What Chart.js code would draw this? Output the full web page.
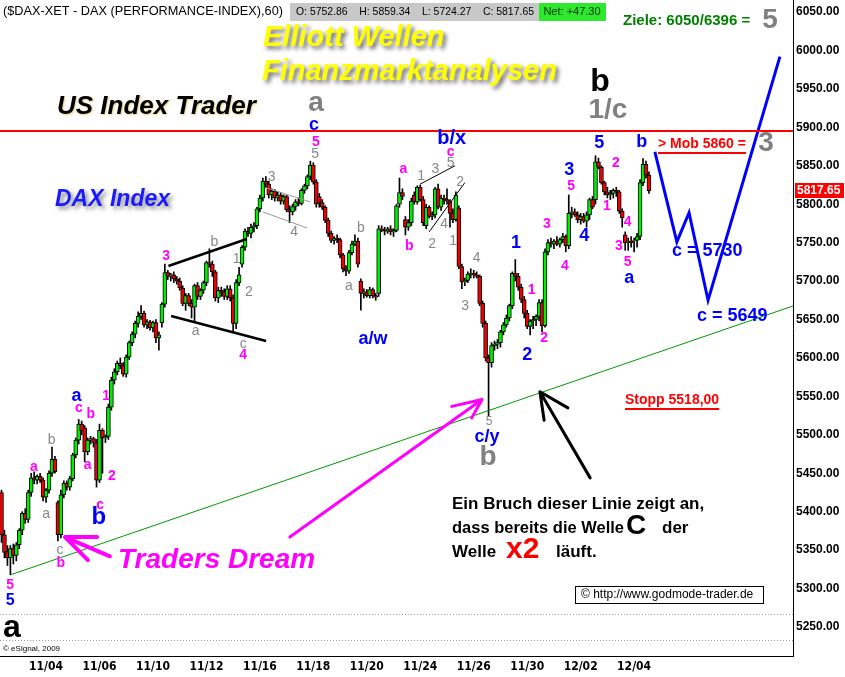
<!DOCTYPE html>
<html>
<head>
<meta charset="utf-8">
<script src="https://cdn.jsdelivr.net/npm/chart.js@4.4.0/dist/chart.umd.min.js"></script>
<style>
  html, body { margin: 0; padding: 0; background: #fff; }
  #wrap { position: relative; width: 845px; height: 677px; }
</style>
</head>
<body>
<div id="wrap"><canvas id="dax"></canvas></div>
<script>
// DAX 60-min bars, 11/02 - 12/04/2009
const opens = [5425,5370,5348,5340,5352,5343,5357,5376,5398,5390,5425,5444,5441,5446,5441,5419,5428,5450,5468,5412,
  5370,5422,5437,5432,5443,5474,5493,5514,5509,5478,5493,5495,5490,5441,5506,5496,5498,5536,5571,5582,
  5593,5590,5579,5601,5620,5631,5645,5654,5658,5643,5647,5639,5646,5626,5646,5670,5711,5706,5708,5703,
  5700,5691,5671,5681,5671,5666,5694,5680,5688,5698,5724,5722,5712,5678,5688,5686,5680,5690,5678,5645,
  5698,5722,5744,5765,5762,5770,5772,5794,5808,5830,5826,5812,5817,5808,5812,5804,5810,5793,5790,5797,
  5803,5801,5818,5824,5836,5851,5829,5810,5802,5796,5779,5762,5753,5756,5754,5734,5716,5713,5737,5748,
  5752,5700,5684,5686,5681,5689,5681,5684,5768,5766,5765,5768,5764,5766,5800,5815,5780,5770,5776,5812,
  5803,5822,5806,5772,5796,5784,5786,5820,5796,5808,5806,5804,5788,5780,5795,5719,5699,5701,5709,5710,
  5708,5706,5671,5645,5600,5594,5616,5618,5620,5634,5643,5652,5668,5710,5706,5692,5676,5658,5641,5648,
  5650,5654,5672,5642,5738,5750,5748,5752,5748,5754,5758,5746,5788,5790,5786,5780,5784,5778,5786,5806,
  5806,5855,5848,5828,5816,5812,5814,5818,5816,5791,5760,5750,5752,5752.86,5753,5758,5828,5852,5838];
const highs = [5428,5376,5356,5356,5358,5360,5378,5400,5404,5428,5450,5452,5448,5450,5444,5430,5453,5484,5472,5414,
  5428,5440,5440,5446,5476,5496,5520,5518,5512,5496,5498,5497,5494,5514,5508,5500,5540,5575,5586,5596,
  5600,5594,5604,5622,5634,5648,5660,5668,5661,5650,5649,5648,5650,5634,5672,5722,5714,5710,5712,5706,
  5704,5694,5684,5684,5676,5696,5698,5690,5700,5726,5742,5726,5714,5692,5692,5690,5694,5694,5682,5702,
  5718,5746,5768,5770,5774,5776,5796,5812,5834,5836,5830,5820,5819,5816,5815,5812,5812,5798,5800,5806,
  5808,5820,5826,5838,5856,5854,5832,5814,5806,5798,5782,5765,5758,5760,5756,5736,5720,5740,5752,5760,
  5756,5703,5690,5689,5692,5691,5684,5772,5772,5770,5770,5772,5768,5800,5834,5820,5784,5780,5808,5816,
  5824,5825,5810,5800,5798,5790,5822,5826,5812,5812,5820,5806,5794,5816,5798,5722,5704,5712,5716,5714,
  5712,5708,5674,5648,5604,5620,5622,5624,5636,5646,5656,5670,5712,5728,5710,5696,5680,5662,5650,5654,
  5656,5676,5676,5742,5754,5756,5754,5758,5756,5762,5760,5812,5796,5794,5790,5788,5788,5790,5808,5810,
  5863,5860,5850,5830,5822,5818,5820,5822,5818,5794,5764,5756,5758,5756,5762,5832,5859.34,5856,5842];
const lows = [5360,5340,5330,5318,5332,5336,5352,5370,5385,5386,5420,5436,5436,5438,5414,5412,5424,5446,5450,5362,
  5366,5418,5428,5428,5440,5470,5488,5500,5465,5474,5488,5484,5432,5438,5450,5490,5494,5532,5566,5578,
  5586,5576,5575,5598,5616,5626,5640,5650,5640,5638,5636,5634,5620,5610,5640,5666,5702,5700,5698,5696,
  5688,5668,5662,5668,5652,5648,5676,5676,5684,5694,5718,5706,5674,5672,5680,5676,5676,5674,5634,5638,
  5694,5718,5740,5758,5756,5764,5768,5790,5804,5822,5808,5806,5804,5804,5800,5800,5790,5776,5786,5792,
  5798,5799,5814,5820,5832,5826,5796,5796,5793,5776,5758,5750,5748,5750,5730,5712,5707,5710,5734,5746,
  5718,5662,5678,5679,5678,5678,5675,5680,5764,5760,5762,5760,5758,5764,5796,5806,5760,5766,5772,5800,
  5800,5804,5772,5768,5782,5780,5782,5794,5792,5800,5800,5770,5776,5778,5716,5690,5694,5698,5704,5704,
  5704,5668,5640,5596,5525,5588,5610,5612,5614,5630,5640,5648,5664,5700,5688,5672,5652,5638,5630,5638,
  5642,5648,5634,5640,5734,5744,5742,5746,5744,5750,5738,5742,5782,5784,5776,5774,5776,5770,5780,5794,
  5800,5846,5826,5812,5808,5806,5808,5810,5788,5770,5740,5740,5744,5738,5744,5754,5824,5834,5814];
const closes = [5370,5347,5340,5352,5343,5357,5376,5398,5390,5425,5444,5441,5446,5441,5419,5428,5450,5468,5452,5370,
  5422,5437,5432,5443,5474,5493,5514,5505,5478,5493,5495,5490,5441,5506,5496,5498,5536,5571,5582,5593,
  5590,5579,5601,5620,5631,5645,5654,5658,5643,5647,5639,5646,5626,5630,5670,5711,5706,5708,5703,5700,
  5691,5671,5681,5671,5666,5694,5680,5688,5698,5724,5722,5712,5678,5688,5686,5680,5690,5678,5645,5698,
  5708,5744,5765,5762,5770,5772,5794,5808,5830,5826,5812,5817,5808,5812,5804,5810,5793,5790,5797,5803,
  5801,5818,5824,5836,5851,5829,5800,5802,5796,5779,5762,5753,5756,5754,5734,5716,5713,5737,5748,5752,
  5722,5684,5686,5681,5689,5681,5679,5768,5766,5765,5768,5764,5766,5798,5815,5810,5770,5776,5804,5803,
  5822,5806,5776,5796,5784,5786,5820,5796,5808,5806,5804,5788,5780,5812,5719,5699,5701,5709,5710,5708,
  5706,5671,5645,5600,5594,5616,5618,5620,5634,5643,5652,5668,5710,5706,5692,5676,5658,5641,5648,5650,
  5654,5672,5642,5738,5750,5748,5752,5748,5754,5758,5746,5788,5790,5786,5780,5784,5778,5786,5806,5796,
  5855,5848,5828,5816,5812,5814,5818,5816,5791,5782,5750,5752,5750,5753,5758,5828,5852,5838,5817.65];

// axis ticks
const xTickBars = [15, 33, 51, 69, 87, 105, 123, 141, 159, 177, 195, 213];
const xTickLabels = ['11/04','11/06','11/10','11/12','11/16','11/18','11/20','11/24','11/26','11/30','12/02','12/04'];
const yTickValues = [5250,5300,5350,5400,5450,5500,5550,5600,5650,5700,5750,5800,5850,5900,5950,6000,6050];
const barSlots = 267;

// drawn lines (bar index, price)
const trendLine = [{x: 2.9, y: 5317.7}, {x: 266.5, y: 5667.6}];
const wedgeUpper = [{x: 56.2, y: 5719.6}, {x: 82.6, y: 5754.7}];
const wedgeLower = [{x: 57.1, y: 5654.6}, {x: 89.1, y: 5622}];
const channelUpper = [{x: 89.4, y: 5821}, {x: 103.9, y: 5803}];
const channelLower = [{x: 88, y: 5790}, {x: 102.9, y: 5769}];
const bxUpper = [{x: 140.9, y: 5826}, {x: 152.7, y: 5850}];
const bxLower = [{x: 144, y: 5764}, {x: 156, y: 5828}];
const projection = [{x: 220, y: 5868}, {x: 227.4, y: 5751}, {x: 231.5, y: 5789}, {x: 237.9, y: 5675}, {x: 262.1, y: 5992}];
const redLevel = 5895;
const lastClose = 5817.65;

// arrows: tip, tail, two head ends
const arrows = [
  {tip: [21.4, 5367], tail: [36.5, 5342], heads: [[32.2, 5367], [29.1, 5337]], color: '#ff00ff', w: 4},
  {tip: [161.8, 5546], tail: [97.1, 5367], heads: [[151.6, 5537], [158.3, 5522]], color: '#ff00ff', w: 3},
  {tip: [181.3, 5556], tail: [198.2, 5444], heads: [[182.7, 5519], [190.7, 5535]], color: '#000000', w: 3}
];

// Elliott wave counts: text, bar index, price, style
const waveLabels = [
  ['5', 2.9, 5305, 'm'], ['5', 2.9, 5284, 'Bs'], ['a', 10.9, 5458, 'm'], ['a', 15, 5397, 'g'],
  ['b', 16.9, 5493, 'g'], ['c', 19.7, 5350, 'g'], ['b', 20, 5333, 'm'], ['a', 25.3, 5550, 'B'],
  ['c', 26.1, 5535, 'm'], ['b', 30.1, 5527, 'm'], ['a', 29, 5460, 'm'], ['1', 35.2, 5550, 'm'],
  ['2', 37.2, 5446, 'm'], ['c', 33.2, 5409, 'm'], ['b', 32.8, 5393, 'Bl'], ['3', 55.4, 5732, 'm'],
  ['b', 71.7, 5750, 'g'], ['1', 79.2, 5729, 'g'], ['2', 83.3, 5685, 'g'], ['a', 65.4, 5635, 'g'],
  ['c', 81.4, 5618, 'g'], ['4', 81.4, 5603, 'm'], ['3', 91, 5835, 'g'], ['4', 98.5, 5764, 'g'],
  ['5', 105.6, 5865, 'g'], ['5', 105.9, 5881, 'm'], ['c', 105.2, 5903, 'B'], ['a', 105.9, 5931, 'G'],
  ['b', 121, 5769, 'g'], ['a', 117, 5693, 'g'], ['a/w', 125.1, 5625, 'B'], ['a', 135.3, 5845, 'm'],
  ['b', 137.3, 5745, 'm'], ['1', 141.3, 5836, 'g'], ['3', 146.1, 5845, 'g'], ['5', 151.2, 5854, 'g'],
  ['c', 151.2, 5868, 'm'], ['b/x', 151.6, 5886, 'Bx'], ['2', 145, 5748, 'g'], ['4', 149, 5774, 'g'],
  ['1', 152.1, 5752, 'g'], ['2', 154.4, 5829, 'g'], ['4', 160, 5730, 'g'], ['3', 156.1, 5667, 'g'],
  ['5', 164.2, 5517, 'gs'], ['c/y', 163.5, 5497, 'B'], ['b', 163.8, 5471, 'G'], ['1', 173.2, 5749, 'B'],
  ['2', 177, 5604, 'B'], ['1', 178.5, 5688, 'm'], ['2', 182.7, 5626, 'm'], ['3', 183.6, 5774, 'm'],
  ['4', 189.7, 5720, 'm'], ['5', 191.8, 5824, 'm'], ['3', 191.2, 5845, 'B'], ['4', 196.2, 5758, 'B'],
  ['5', 201.3, 5880, 'B'], ['2', 206.9, 5853, 'm'], ['1', 203.8, 5798, 'm'], ['4', 210.8, 5776, 'm'],
  ['3', 207.9, 5746, 'm'], ['5', 210.8, 5725, 'm'], ['a', 211.4, 5704, 'B'], ['b', 215.6, 5881, 'B'],
  ['b', 201.5, 5959, 'K'], ['1/c', 204.2, 5922, 'G'], ['a', 3.5, 5249, 'K']
];

const FF = "'Liberation Sans', Arial, sans-serif";
const labelStyles = {
  m: ['bold 14px ' + FF, '#ff00ff'],
  g: ['14px ' + FF, '#888888'],
  gs: ['12px ' + FF, '#888888'],
  B: ['bold 18px ' + FF, '#0000ff'],
  Bs: ['bold 16px ' + FF, '#0000ff'],
  Bl: ['bold 24px ' + FF, '#0000ff'],
  Bx: ['bold 20px ' + FF, '#0000ff'],
  G: ['bold 28px ' + FF, '#808080'],
  K: ['bold 32px ' + FF, '#000000']
};

function txt(ctx, s, x, y, font, color, align, maxW) {
  ctx.font = font;
  ctx.fillStyle = color;
  ctx.textAlign = align || 'left';
  ctx.textBaseline = 'middle';
  if (maxW) ctx.fillText(s, x, y, maxW); else ctx.fillText(s, x, y);
}
function underline(ctx, s, x, y, font, color, maxW) {
  ctx.font = font;
  let w = ctx.measureText(s).width;
  if (maxW) w = Math.min(w, maxW);
  ctx.fillStyle = color;
  ctx.fillRect(x, y, w, 2);
}
function shadowOn(ctx, c) {
  ctx.shadowColor = c; ctx.shadowBlur = 4; ctx.shadowOffsetX = 3; ctx.shadowOffsetY = 3;
}
function shadowOff(ctx) {
  ctx.shadowColor = 'transparent'; ctx.shadowBlur = 0; ctx.shadowOffsetX = 0; ctx.shadowOffsetY = 0;
}

const decoPlugin = {
  id: 'deco',
  beforeDatasetsDraw(chart) {
    const {ctx, chartArea: a} = chart;
    ctx.save();
    ctx.strokeStyle = '#9a9a9a'; ctx.lineWidth = 1; ctx.setLineDash([1, 2]);
    [614.5, 640.5].forEach(py => { ctx.beginPath(); ctx.moveTo(a.left, py); ctx.lineTo(a.right, py); ctx.stroke(); });
    ctx.restore();
  },
  afterDatasetsDraw(chart) {
    const {ctx, chartArea: a, scales: {x, y}} = chart;
    ctx.save();
    // resistance line
    const ry = Math.round(y.getPixelForValue(redLevel));
    ctx.fillStyle = '#ff0000';
    ctx.fillRect(a.left, ry - 1, a.right - a.left, 2);
    // arrows
    ctx.lineCap = 'round';
    arrows.forEach(ar => {
      const px = p => [x.getPixelForValue(p[0]), y.getPixelForValue(p[1])];
      const t = px(ar.tip), b = px(ar.tail);
      ctx.strokeStyle = ar.color; ctx.lineWidth = ar.w;
      ctx.beginPath(); ctx.moveTo(b[0], b[1]); ctx.lineTo(t[0], t[1]);
      ar.heads.forEach(h => { const hp = px(h); ctx.moveTo(t[0], t[1]); ctx.lineTo(hp[0], hp[1]); });
      ctx.stroke();
    });
    // wave labels
    waveLabels.forEach(([s, i, p, st]) => {
      const [font, col] = labelStyles[st];
      txt(ctx, s, x.getPixelForValue(i), y.getPixelForValue(p), font, col, 'center');
    });

    // titles
    shadowOn(ctx, 'rgba(60,60,60,0.75)');
    txt(ctx, 'Elliott Wellen', 263, 38, 'bold italic 29px ' + FF, '#ffff00', 'left', 185);
    txt(ctx, 'Finanzmarktanalysen', 262, 72, 'bold italic 29px ' + FF, '#ffff00', 'left', 298);
    shadowOn(ctx, 'rgba(90,90,90,0.7)');
    txt(ctx, 'DAX Index', 55, 200, 'bold italic 23px ' + FF, '#1a1aff', 'left', 121);
    shadowOn(ctx, 'rgba(200,170,0,0.5)');
    ctx.shadowBlur = 2; ctx.shadowOffsetX = 1; ctx.shadowOffsetY = 1;
    txt(ctx, 'US Index Trader', 57, 107, 'bold italic 26px ' + FF, '#000000', 'left', 207);
    shadowOff(ctx);
    txt(ctx, 'Traders Dream', 118, 560, 'bold italic 28px ' + FF, '#ff00ff', 'left', 201);

    // targets and levels
    txt(ctx, 'Ziele: 6050/6396 =', 623, 21, 'bold 15px ' + FF, '#008000', 'left', 140);
    txt(ctx, '5', 770, 20, 'bold 28px ' + FF, '#808080', 'center');
    txt(ctx, '> Mob 5860 =', 658, 144, 'bold 14px ' + FF, '#ff0000', 'left', 98);
    underline(ctx, '> Mob 5860 =', 658, 152, 'bold 14px ' + FF, '#ff0000', 98);
    txt(ctx, '3', 766, 143, 'bold 28px ' + FF, '#808080', 'center');
    txt(ctx, 'Stopp 5518,00', 625, 400, 'bold 14px ' + FF, '#ff0000', 'left', 106);
    underline(ctx, 'Stopp 5518,00', 625, 408, 'bold 14px ' + FF, '#ff0000', 106);
    txt(ctx, 'c = 5730', 672, 251, 'bold 18px ' + FF, '#0000ff', 'left', 77);
    txt(ctx, 'c = 5649', 697, 316, 'bold 18px ' + FF, '#0000ff', 'left', 77);

    // comment
    txt(ctx, 'Ein Bruch dieser Linie zeigt an,', 452, 504, 'bold 17px ' + FF, '#000', 'left', 308);
    txt(ctx, 'dass bereits die Welle', 452, 528, 'bold 17px ' + FF, '#000', 'left', 172);
    txt(ctx, 'C', 636, 526, 'bold 28px ' + FF, '#000', 'center');
    txt(ctx, 'der', 662, 528, 'bold 17px ' + FF, '#000', 'left');
    txt(ctx, 'Welle', 452, 552, 'bold 17px ' + FF, '#000', 'left', 48);
    txt(ctx, 'x2', 506, 550, 'bold 30px ' + FF, '#ff0000', 'left', 42);
    txt(ctx, 'läuft.', 556, 552, 'bold 17px ' + FF, '#000', 'left', 53);

    // source box
    ctx.strokeStyle = '#000'; ctx.lineWidth = 1;
    ctx.strokeRect(575.5, 586.5, 188, 17);
    txt(ctx, '\u00a9 http://www.godmode-trader.de', 581, 595, '12px ' + FF, '#000', 'left', 178);
    txt(ctx, '\u00a9 eSignal, 2009', 3, 649, '8px ' + FF, '#000', 'left');
    ctx.restore();
  },
  afterDraw(chart) {
    const {ctx, scales: {y}} = chart;
    ctx.save();
    // header
    txt(ctx, '($DAX-XET - DAX (PERFORMANCE-INDEX),60)', 3, 11, '13px ' + FF, '#000', 'left', 280);
    ctx.fillStyle = '#c8c8c8'; ctx.fillRect(290, 3, 249, 18);
    txt(ctx, 'O: 5752.86    H: 5859.34    L: 5724.27    C: 5817.65', 296, 12, '11px ' + FF, '#000', 'left', 238);
    ctx.fillStyle = '#2ee82e'; ctx.fillRect(539, 3, 67, 18);
    txt(ctx, 'Net: +47.30', 572, 12, '11px ' + FF, '#003300', 'center', 62);
    // last price box
    const py = y.getPixelForValue(lastClose);
    ctx.fillStyle = '#ff0000'; ctx.fillRect(795, Math.round(py) - 8, 49, 15);
    txt(ctx, lastClose.toFixed(2), 797, py, 'bold 12px ' + FF, '#ffffff', 'left', 46);
    ctx.restore();
  }
};

const wicks = highs.map((h, i) => ({x: i, y: [lows[i], h]}));
const bodies = opens.map((o, i) => ({x: i, y: [o, closes[i]]}));
const bodyColors = opens.map((o, i) => closes[i] >= o ? '#00ee00' : '#ee0000');

function lineSet(data, color, width) {
  return {type: 'line', data: data, borderColor: color, borderWidth: width, pointRadius: 0,
    fill: false, tension: 0, order: 1};
}

new Chart(document.getElementById('dax'), {
  type: 'bar',
  data: {
    datasets: [
      {data: wicks, backgroundColor: '#000', barThickness: 1, grouped: false, order: 3},
      {data: bodies, backgroundColor: bodyColors, borderColor: '#000', borderWidth: 1,
        borderSkipped: false, barThickness: 4, grouped: false, order: 2},
      lineSet(trendLine, '#009900', 1),
      lineSet(wedgeUpper, '#000000', 2.5),
      lineSet(wedgeLower, '#000000', 2.5),
      lineSet(channelUpper, '#999999', 1),
      lineSet(channelLower, '#999999', 1),
      lineSet(bxUpper, '#000000', 1),
      lineSet(bxLower, '#000000', 1),
      lineSet(projection, '#0000ff', 3)
    ]
  },
  options: {
    responsive: true,
    maintainAspectRatio: false,
    animation: false,
    layout: {padding: 0},
    plugins: {legend: {display: false}, tooltip: {enabled: false}},
    scales: {
      x: {
        type: 'linear', offset: false, min: -0.5, max: barSlots - 0.5,
        grid: {display: false, drawTicks: false},
        border: {display: true, color: '#000', width: 1},
        afterBuildTicks: s => { s.ticks = xTickBars.map(v => ({value: v})); },
        afterFit: s => { s.height = 21; s.paddingLeft = 0; s.paddingRight = 0; },
        ticks: {
          autoSkip: false, maxRotation: 0, padding: 4, color: '#000',
          font: {family: "'Liberation Sans Narrow', 'DejaVu Sans Condensed', Arial", size: 12, weight: 'bold'},
          callback: v => xTickLabels[xTickBars.indexOf(v)]
        }
      },
      y: {
        position: 'right', min: 5212.3, max: 6065.6,
        grid: {display: false, drawTicks: false},
        border: {display: true, color: '#000', width: 1},
        afterBuildTicks: s => { s.ticks = yTickValues.map(v => ({value: v})); },
        afterFit: s => { s.width = 52; s.paddingTop = 0; s.paddingBottom = 0; },
        ticks: {
          padding: 3, color: '#000',
          font: {family: FF, size: 12, weight: 'bold'},
          callback: v => v.toFixed(2)
        }
      }
    }
  },
  plugins: [decoPlugin]
});
</script>
</body>
</html>
